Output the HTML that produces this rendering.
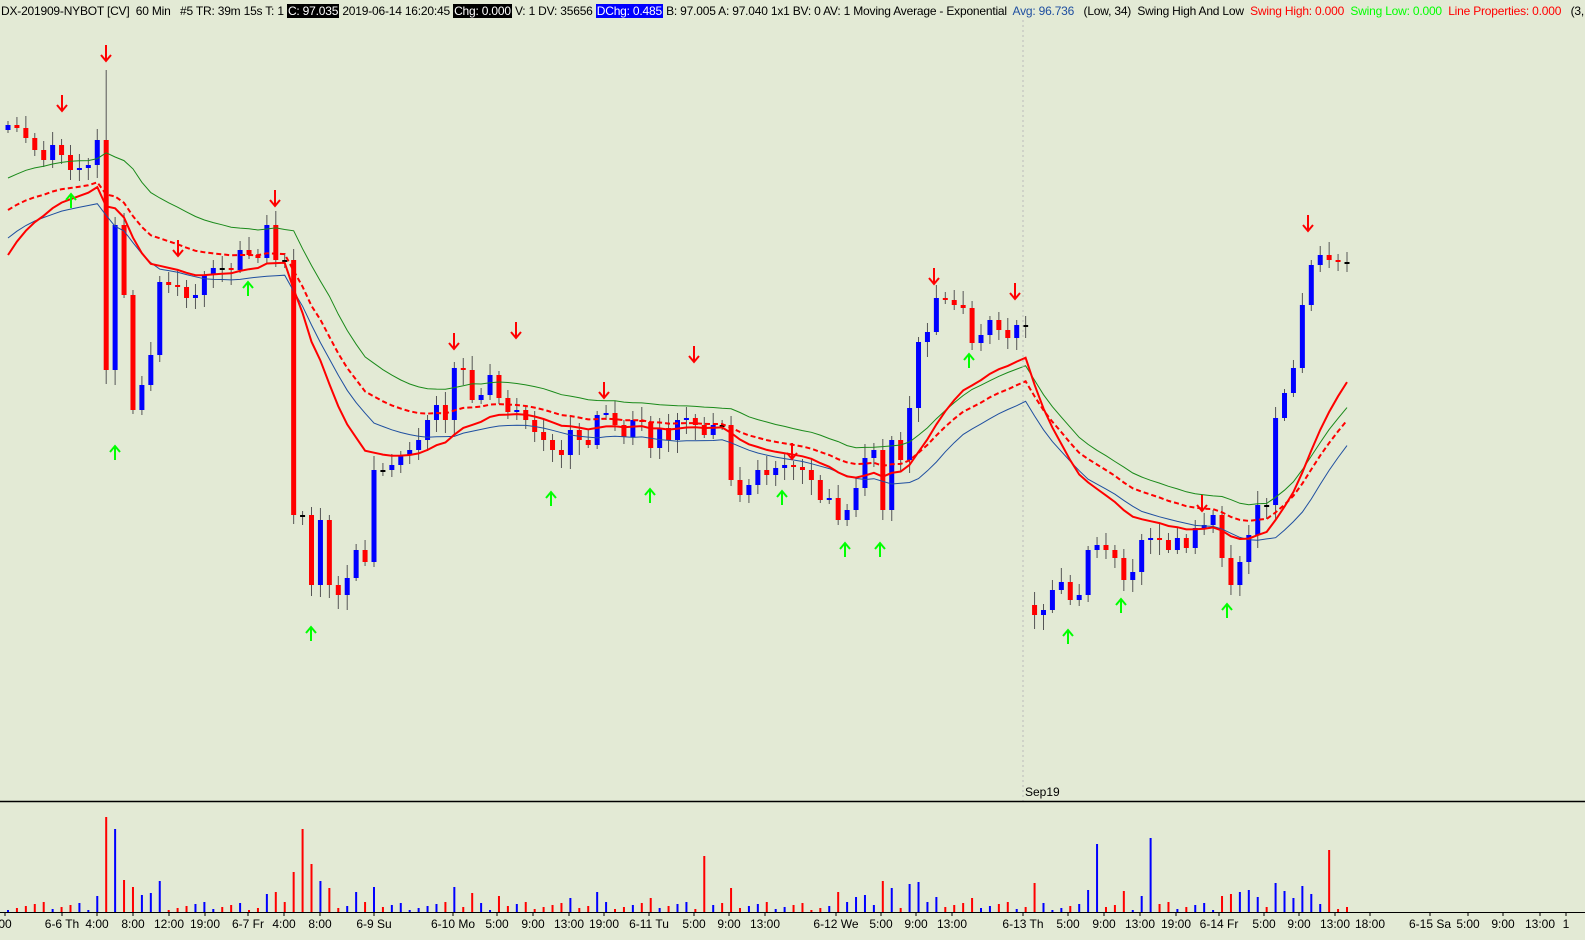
<!DOCTYPE html>
<html><head><meta charset="utf-8"><style>
html,body{margin:0;padding:0;background:#e3ead5;}
#c{position:relative;width:1585px;height:940px;overflow:hidden;font-family:"Liberation Sans",sans-serif;}
#hdr{position:absolute;left:1px;top:4px;font-size:12px;white-space:nowrap;color:#000;letter-spacing:-0.2px}
#hdr .k{background:#000;color:#fff;padding:0 1px}
#hdr .b{background:#0000ff;color:#fff;padding:0 1px}
</style></head><body><div id="c">
<div id="hdr">DX-201909-NYBOT [CV]&nbsp; 60 Min&nbsp;&nbsp; #5 TR: 39m 15s T: 1 <span class="k">C: 97.035</span> 2019-06-14 16:20:45 <span class="k">Chg: 0.000</span> V: 1 DV: 35656 <span class="b">DChg: 0.485</span> B: 97.005 A: 97.040 1x1 BV: 0 AV: 1 Moving Average - Exponential&nbsp; <span style="color:#1f4fa0">Avg: 96.736</span>&nbsp;&nbsp; (Low, 34)&nbsp; Swing High And Low&nbsp; <span style="color:#f00">Swing High: 0.000</span>&nbsp; <span style="color:#0f0">Swing Low: 0.000</span>&nbsp; <span style="color:#f00">Line Properties: 0.000</span>&nbsp;&nbsp; (3, 3, No,</div>
<svg id="s" width="1585" height="940" style="position:absolute;left:0;top:0"></svg>
</div>
<script>
var C=[125,128,138,150,160,145,155,170,168,165,140,370,225,295,410,385,355,282,285,287,298,295,275,268,268,270,250,255,258,225,260,260,515,515,585,520,585,595,578,550,562,470,470,465,455,450,440,420,405,420,368,370,400,395,375,398,412,410,420,432,440,450,455,430,440,445,415,413,425,437,420,422,448,428,440,420,418,425,435,425,425,480,495,485,470,475,468,465,467,470,480,500,498,520,510,488,458,450,510,440,460,408,342,332,298,300,305,308,343,335,320,330,338,325,325,615,610,590,582,600,595,550,545,550,558,580,572,540,538,540,550,538,548,528,525,515,558,585,562,535,505,505,418,393,368,305,265,255,260,262,262];
var s='',x0=8,dx=(1347-8)/(C.length-1);
function X(i){return x0+i*dx}
var H=[],L=[];
for(var i=0;i<C.length;i++){
 var o=i?C[i-1]:C[0]+5, c=C[i];
 if(i==115)o=605;
 var w=4+((i*37)%11);
 var hi=Math.min(o,c)-w, lo=Math.max(o,c)+((i*53)%13)+3;
 if(i==11)hi=70;
 H.push(hi);L.push(lo);
 var col=c<o?'#0000ff':(c==o?'#000':'#ff0000');
 var x=X(i);
 s+='<line x1="'+x+'" y1="'+hi+'" x2="'+x+'" y2="'+lo+'" stroke="#555" stroke-width="1"/>';
 var t=Math.min(o,c),h=Math.max(2,Math.abs(o-c));
 s+='<rect x="'+(x-2.5)+'" y="'+t+'" width="5" height="'+h+'" fill="'+col+'"/>';
}
function ema(a,n,seed){var k=2/(n+1),r=[],v=seed;for(var i=0;i<a.length;i++){v=i?v+k*(a[i]-v):seed;r.push(v)}return r}
function pl(a,st,w,d){var p='';for(var i=0;i<a.length;i++)p+=(i?'L':'M')+X(i).toFixed(1)+' '+a[i].toFixed(1);return '<path d="'+p+'" fill="none" stroke="'+st+'" stroke-width="'+w+'"'+(d?' stroke-dasharray="'+d+'"':'')+'/>'}
s+=pl(ema(H,30,178),'#1a8a1a',1);
s+=pl(ema(L,30,238),'#1f4fa0',1);
s+=pl(ema(C,30,210),'#ff0000',2,'5,3');
s+=pl(ema(C,18,255),'#ff0000',2);
var dn=[[106,55],[62,105],[178,250],[275,200],[454,343],[516,332],[694,356],[604,392],[792,453],[934,278],[1015,293],[1202,505],[1308,225]];
var up=[[71,200],[115,452],[248,288],[311,633],[551,498],[650,495],[782,497],[845,549],[880,549],[969,360],[1068,636],[1121,605],[1227,610]];
dn.forEach(function(a){s+='<path d="M'+a[0]+' '+(a[1]-10)+'V'+(a[1]+5)+'M'+(a[0]-5)+' '+a[1]+'L'+a[0]+' '+(a[1]+6)+'L'+(a[0]+5)+' '+a[1]+'" stroke="#f00" stroke-width="2" fill="none"/>'});
up.forEach(function(a){s+='<path d="M'+a[0]+' '+(a[1]+8)+'V'+(a[1]-6)+'M'+(a[0]-5)+' '+a[1]+'L'+a[0]+' '+(a[1]-6)+'L'+(a[0]+5)+' '+a[1]+'" stroke="#0f0" stroke-width="2" fill="none"/>'});
s+='<line x1="1023" y1="20" x2="1023" y2="801" stroke="#bbb" stroke-dasharray="2,3"/>';
s+='<text x="1025" y="796" font-size="12" font-family="Liberation Sans">Sep19</text>';
s+='<line x1="0" y1="801.5" x2="1585" y2="801.5" stroke="#000" stroke-width="1.5"/>';
s+='<line x1="0" y1="912.5" x2="1585" y2="912.5" stroke="#000" stroke-width="1"/>';
var spikes={11:95,12:83,32:40,33:83,34:48,78:56,122:68,128:74,148:62,153:90};
for(var i=0;i<C.length;i++){
 var o=i?C[i-1]:C[0]+5,c=C[i];
 var h=spikes[i]||(2+((i*29)%9)+(Math.abs(o-c)>20?12:0)+(Math.abs(o-c)>50?10:0));
 s+='<rect x="'+(X(i)-1)+'" y="'+(912-h)+'" width="2" height="'+h+'" fill="'+(c<o?'#0000ff':'#ff0000')+'"/>';
}
var lb=[["00",5],["6-6 Th",62],["4:00",97],["8:00",133],["12:00",169],["19:00",205],["6-7 Fr",248],["4:00",284],["8:00",320],["6-9 Su",374],["6-10 Mo",453],["5:00",497],["9:00",533],["13:00",569],["19:00",604],["6-11 Tu",649],["5:00",694],["9:00",729],["13:00",765],["6-12 We",836],["5:00",881],["9:00",916],["13:00",952],["6-13 Th",1023],["5:00",1068],["9:00",1104],["13:00",1140],["19:00",1176],["6-14 Fr",1219],["5:00",1264],["9:00",1299],["13:00",1335],["18:00",1370],["6-15 Sa",1430],["5:00",1468],["9:00",1503],["13:00",1540],["1",1566]];
lb.forEach(function(a){s+='<line x1="'+a[1]+'" y1="912" x2="'+a[1]+'" y2="916" stroke="#000"/><text x="'+a[1]+'" y="928" font-size="12" text-anchor="middle" font-family="Liberation Sans">'+a[0]+'</text>'});
document.getElementById('s').innerHTML=s;
</script>
</body></html>
